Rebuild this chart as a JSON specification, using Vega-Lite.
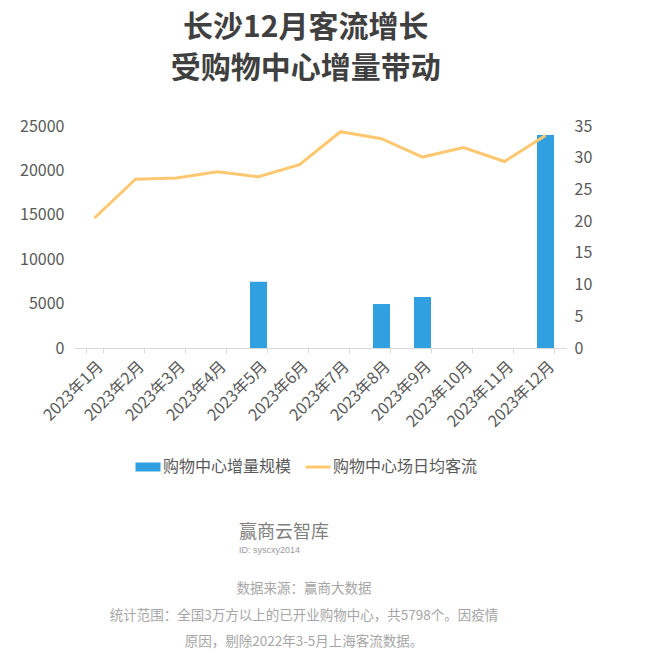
{
  "$schema": "https://vega.github.io/schema/vega-lite/v6.json",
  "padding": {"left": 19, "top": 13, "right": 5, "bottom": 5},
  "background": "white",
  "title": {
    "text": ["长沙12月客流增长", "受购物中心增量带动"],
    "fontSize": 30, "fontWeight": "bold", "color": "#404040",
    "lineHeight": 41, "anchor": "middle", "offset": 34, "font": "Noto Sans CJK SC"
  },
  "config": {
    "font": "Noto Sans CJK SC",
    "view": {"stroke": null},
    "axis": {"grid": false, "labelColor": "#595959", "labelFontSize": 16, "title": null},
    "axisY": {"domain": false, "ticks": false}
  },
  "spacing": 94,
  "vconcat": [
    {
      "width": 492,
      "height": 222,
      "data": {
        "values": [
          {"month": "2023年1月", "increment": 0, "flow": 20.5},
          {"month": "2023年2月", "increment": 0, "flow": 26.6},
          {"month": "2023年3月", "increment": 0, "flow": 26.8},
          {"month": "2023年4月", "increment": 0, "flow": 27.8},
          {"month": "2023年5月", "increment": 7450, "flow": 27.0},
          {"month": "2023年6月", "increment": 0, "flow": 28.9},
          {"month": "2023年7月", "increment": 0, "flow": 34.1},
          {"month": "2023年8月", "increment": 4950, "flow": 33.0},
          {"month": "2023年9月", "increment": 5750, "flow": 30.1},
          {"month": "2023年10月", "increment": 0, "flow": 31.6},
          {"month": "2023年11月", "increment": 0, "flow": 29.4},
          {"month": "2023年12月", "increment": 24000, "flow": 33.5}
        ]
      },
      "encoding": {
        "x": {
          "field": "month", "type": "nominal", "sort": null,
          "scale": {"paddingInner": 0.585, "paddingOuter": 0.2925},
          "axis": {
            "labelAngle": -45, "domainColor": "#d9d9d9", "tickColor": "#d9d9d9",
            "tickBand": "extent", "tickSize": 5, "labelPadding": 5
          }
        }
      },
      "layer": [
        {
          "mark": {"type": "bar"},
          "encoding": {
            "y": {
              "field": "increment", "type": "quantitative",
              "scale": {"domain": [0, 25000]},
              "axis": {"values": [0, 5000, 10000, 15000, 20000, 25000], "format": "d", "labelPadding": 10}
            },
            "color": {
              "datum": "购物中心增量规模", "type": "nominal",
              "scale": {"domain": ["购物中心增量规模", "购物中心场日均客流"], "range": ["#31a0e0", "#ffc870"]},
              "legend": {
                "orient": "none", "legendX": 66, "legendY": 333, "direction": "horizontal",
                "title": null, "labelFontSize": 16, "labelColor": "#595959",
                "symbolSize": 625, "labelOffset": 7, "columnPadding": 7,
                "encode": {
                  "symbols": {
                    "update": {
                      "shape": {"signal": "datum.label === '购物中心场日均客流' ? 'stroke' : 'M-1,-0.36H1V0.36H-1Z'"},
                      "stroke": {"signal": "datum.label === '购物中心场日均客流' ? '#ffc870' : '#31a0e0'"},
                      "fill": {"signal": "datum.label === '购物中心场日均客流' ? '#ffc870' : '#31a0e0'"},
                      "strokeWidth": {"signal": "datum.label === '购物中心场日均客流' ? 3 : 0"}
                    }
                  }
                }
              }
            }
          }
        },
        {
          "mark": {"type": "line", "strokeWidth": 3},
          "encoding": {
            "y": {
              "field": "flow", "type": "quantitative",
              "scale": {"domain": [0, 35]},
              "axis": {"orient": "right", "values": [0, 5, 10, 15, 20, 25, 30, 35], "labelPadding": 8}
            },
            "color": {"datum": "购物中心场日均客流", "type": "nominal"}
          }
        }
      ],
      "resolve": {"scale": {"y": "independent"}}
    },
    {
      "spacing": 27,
      "vconcat": [
        {
          "width": 460,
          "height": 17,
          "layer": [
            {
              "data": {"values": [{"line": 1, "text": "赢商云智库"}]},
              "mark": {"type": "text", "fontSize": 18, "color": "#808080", "align": "left", "dx": -65, "baseline": "middle"},
              "encoding": {
                "y": {"field": "line", "type": "ordinal", "scale": {"type": "point", "domain": [1, 2], "padding": 0}, "axis": null},
                "text": {"field": "text"}
              }
            },
            {
              "data": {"values": [{"line": 2, "text": "ID: syscxy2014"}]},
              "mark": {"type": "text", "fontSize": 9, "color": "#9a9a9a", "align": "left", "dx": -65, "baseline": "middle", "font": "Liberation Sans"},
              "encoding": {
                "y": {"field": "line", "type": "ordinal", "scale": {"type": "point", "domain": [1, 2], "padding": 0}, "axis": null},
                "text": {"field": "text"}
              }
            }
          ]
        },
        {
          "width": 460,
          "height": 53,
          "data": {
            "values": [
              {"line": 1, "text": "数据来源：赢商大数据"},
              {"line": 2, "text": "统计范围：全国3万方以上的已开业购物中心，共5798个。因疫情"},
              {"line": 3, "text": "原因，剔除2022年3-5月上海客流数据。"}
            ]
          },
          "mark": {"type": "text", "fontSize": 13.5, "color": "#a6a6a6", "baseline": "middle"},
          "encoding": {
            "y": {"field": "line", "type": "ordinal", "scale": {"type": "point", "padding": 0}, "axis": null},
            "text": {"field": "text"}
          }
        }
      ]
    }
  ]
}
